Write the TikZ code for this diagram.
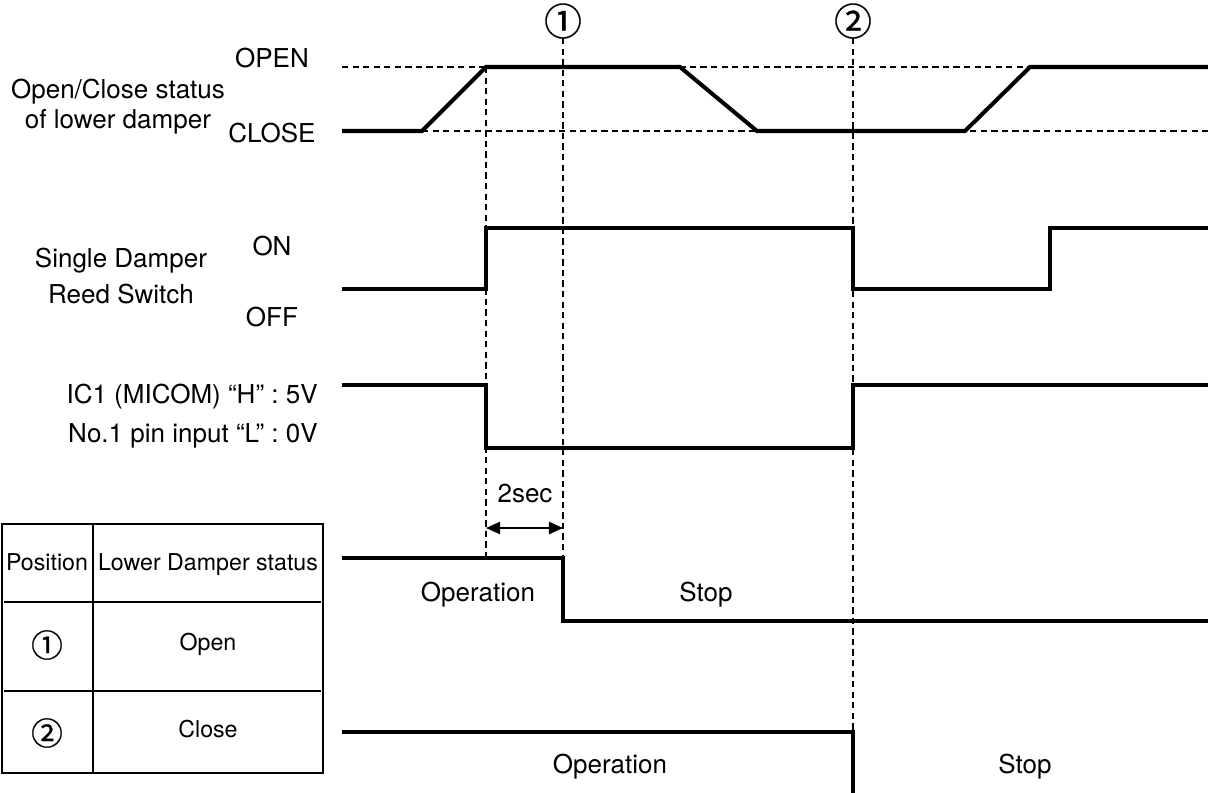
\documentclass[tikz,border=0pt]{standalone}
\usepackage{fontspec}
\setmainfont{TeX Gyre Heros}
\newfontfamily\circfont[FakeBold=0.8]{Noto Sans CJK SC}
\usetikzlibrary{arrows.meta,positioning,calc}
\definecolor{tdInk}{HTML}{000000}
\tikzset{
  >={Triangle[length=8pt,width=7pt]},
  wave/.style={draw=tdInk, line width=2.3pt, line join=miter},
  guide/.style={draw=tdInk, line width=0.8pt, dash pattern=on 3.6pt off 2.4pt},
  lbl/.style={font=\fontsize{14.8}{17}\selectfont, inner sep=0pt, anchor=base},
  cell/.style={font=\fontsize{13.2}{15}\selectfont, inner sep=0pt, anchor=base},
  posmark/.style={font=\circfont\fontsize{21.5}{21.5}\selectfont, inner sep=0pt},
  cellmark/.style={font=\circfont\fontsize{18}{18}\selectfont, inner sep=0pt},
  tabframe/.style={draw=tdInk, line width=1.1pt},
  tabrule/.style={draw=tdInk, line width=0.7pt},
}
\begin{document}
\begin{tikzpicture}[x=0.02cm, y=-0.02cm]
    \useasboundingbox (0,0) rectangle (1208,792);
    % positions 1 and 2
    \node[posmark] (pos1) at (563,21) {①};
    \node[posmark] (pos2) at (853,21) {②};
    \draw[guide] (486,67) -- (486,558);
    \draw[guide] (563,38) -- (563,558);
    \draw[guide] (853,38) -- (853,732);
    \draw[guide] (342,67) -- (1208,67);
    \draw[guide] (422,131) -- (1208,131);

    % lower damper
    \node[lbl] (open) at (272,67) {OPEN};
    \node[lbl] (close) at (272,142) {CLOSE};
    \node[lbl] (dmp1) at (118,98) {Open/Close status};
    \node[lbl] (dmp2) at (118,128) {of lower damper};
    \draw[wave] (342,131) -- (422,131) -- (486,67) -- (680,67) -- (757,131)
                -- (965,131) -- (1030,67) -- (1210,67);

    % reed switch
    \node[lbl] (on) at (272,255) {ON};
    \node[lbl] (off) at (272,326) {OFF};
    \node[lbl] (reed1) at (121,267) {Single Damper};
    \node[lbl] (reed2) at (121,303) {Reed Switch};
    \draw[wave] (342,289) -- (486,289) -- (486,228) -- (853,228) -- (853,289)
                -- (1050,289) -- (1050,228) -- (1210,228);

    % micom pin
    \node[lbl,anchor=base east] (pinH) at (318,403) {IC1 (MICOM) “H” : 5V};
    \node[lbl,anchor=base east] (pinL) at (318,442) {No.1 pin input “L” : 0V};
    \draw[wave] (342,385) -- (486,385) -- (486,448) -- (853,448) -- (853,385)
                -- (1210,385);

    % 2 sec delay
    \coordinate (dly1) at (486,528);
    \coordinate (dly2) at (563,528);
    \draw[<->, line width=0.8pt] (dly1) -- (dly2);
    \node[lbl] (dly) at (525,502) {2sec};

    % upper / lower operation
    \draw[wave] (342,558) -- (563,558) -- (563,621) -- (1210,621);
    \node[lbl] (op1) at (478,601) {Operation};
    \node[lbl] (st1) at (706,601) {Stop};
    \draw[wave] (342,732) -- (853,732) -- (853,800);
    \node[lbl] (op2) at (610,773) {Operation};
    \node[lbl] (st2) at (1025,773) {Stop};

    % position table
    \draw[tabframe] (2,524) rectangle (323,773);
    \draw[tabframe] (93,524) -- (93,773);
    \foreach \y in {602,691}
      \draw[tabrule] (4,\y) -- (321,\y);
    \node[cell] (hPos) at (47,570) {Position};
    \node[cell] (hSt) at (208,570) {Lower Damper status};
    \node[cellmark] (r1) at (47,645) {①};
    \node[cell] (r1st) at (208,650) {Open};
    \node[cellmark] (r2) at (47,733) {②};
    \node[cell] (r2st) at (208,737) {Close};
\end{tikzpicture}
\end{document}
